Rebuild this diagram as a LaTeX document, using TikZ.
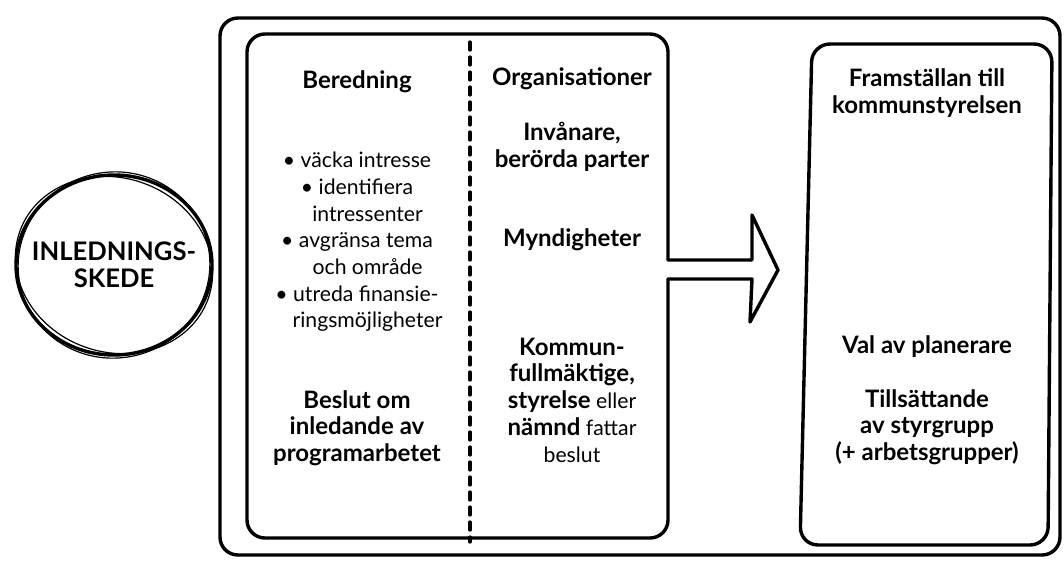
\documentclass[tikz,border=0pt]{standalone}
\usepackage{fontspec}
\setmainfont{Lato}
\usepackage{tikz}
\usetikzlibrary{calc}
\newcommand{\Sketch}[2][]{
\draw[sketch,#1] #2;
\draw[sketch thin,#1,xshift=0.8pt,yshift=-0.6pt] #2;}
\newcommand{\Cont}{\hspace*{1em}}
\newcommand{\B}[1]{{\fontsize{12}{13.35}\selectfont\bfseries #1}}

\begin{document}
\begin{tikzpicture}[x=0.5pt,y=-0.5pt,line cap=round,line join=round]
	\tikzstyle{sketch}=[line width=1.7pt,rounded corners=9pt];
	\tikzstyle{sketch thin}=[line width=0.6pt,rounded corners=8pt];
	\tikzstyle{txt}=[align=center,inner sep=0pt,font=\fontsize{10.6}{13.35}\selectfont];
	\tikzstyle{hd}=[txt,font=\fontsize{12}{13.35}\selectfont\bfseries];
	\useasboundingbox (0,0) rectangle (1064,562);
	%%
	\coordinate (A) at (220,18);
	\coordinate (B) at (1060,555);
	\coordinate (C) at (247,34);
	\coordinate (D) at (668,538);
	\coordinate (G1) at (668,260);
	\coordinate (G2) at (668,279);
	\coordinate (H) at (752,260);
	\coordinate (I) at (752,215);
	\coordinate (J) at (778,270);
	\coordinate (K) at (750,322);
	\coordinate (L) at (752,279);
	\coordinate (M) at (812,44);
	\coordinate (N) at (800,545);
	\coordinate (P) at (1048,545);
	\coordinate (Q) at (1052,44);
	\coordinate (R) at (470,42);
	\coordinate (T) at (470,542);
	\coordinate (S) at (114,265);
	%%
	\Sketch{(A) rectangle (B)}
	\Sketch{(G1) -- (C -| G1) -- (C) -- (C |- D) -- (D) -- (G2)}
	\Sketch[rounded corners=0pt]{(G1) -- (H) -- (I) -- (J) -- (K) -- (L) -- (G2)}
	\Sketch{(M) -- (N) -- (P) -- (Q) -- cycle}
	%%
	\draw[line width=1.6pt,dash pattern=on 4pt off 3.5pt] (R) -- (T);
	%%
	\draw[sketch] (S) ellipse [x radius=98, y radius=90];
	\draw[sketch thin,rotate around={12:(S)}] (S) ellipse [x radius=96, y radius=93];
	\draw[sketch thin,rotate around={-20:(S)}] (S) ellipse [x radius=100, y radius=87];
	%%
	\node[hd,font=\fontsize{12.8}{13.35}\selectfont\bfseries] (start) at (S) {INLEDNINGS-\\SKEDE};
	\node[hd] (beredning) at (357,82) {Beredning};
	\node[txt] (uppgifter) at (357,242) {• väcka intresse\\ • identifiera\\ \Cont intressenter\\ • avgränsa tema\\ \Cont och område\\ • utreda finansie-\\ \Cont ringsmöjligheter};
	\node[hd] (beslut) at (357,428) {Beslut om\\ inledande av\\ programarbetet};
	\node[hd] (org) at (572,79) {Organisationer};
	\node[hd] (invanare) at (572,147) {Invånare,\\ berörda parter};
	\node[hd] (myndigheter) at (572,240) {Myndigheter};
	\node[txt] (kommun) at (572,400) {\B{Kommun-}\\ \B{fullmäktige,}\\ \B{styrelse} eller\\ \B{nämnd} fattar\\ beslut};
	\node[hd] (framstallan) at (927,93) {Framställan till\\ kommunstyrelsen};
	\node[hd] (val) at (927,347) {Val av planerare};
	\node[hd] (tillsattande) at (927,427) {Tillsättande\\ av styrgrupp\\ (+ arbetsgrupper)};
\end{tikzpicture}
\end{document}
